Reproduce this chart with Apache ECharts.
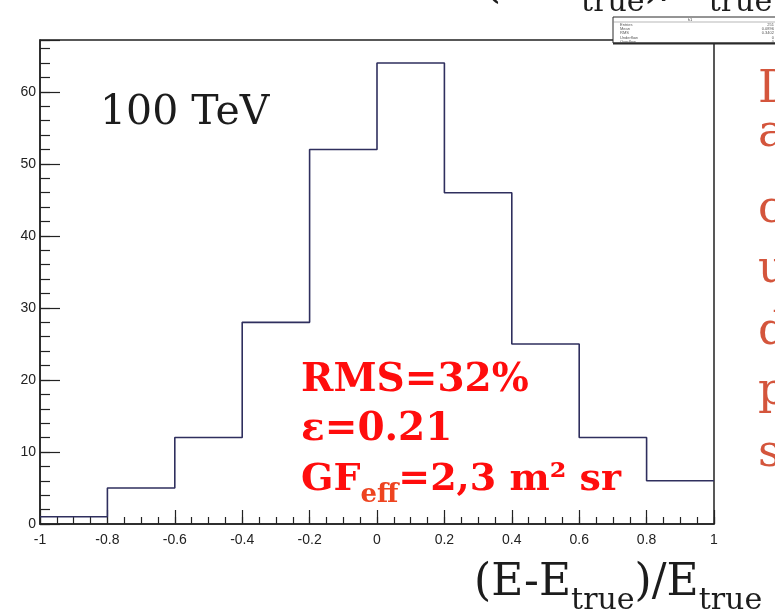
<!DOCTYPE html>
<html>
<head>
<meta charset="utf-8">
<script src="https://cdn.jsdelivr.net/npm/echarts@6/dist/echarts.min.js"></script>
<style>
  html, body { margin: 0; padding: 0; background: #ffffff; }
  #chart { width: 775px; height: 612px; }
</style>
</head>
<body>
<div id="chart"></div>
<script>
// Histogram of relative energy residuals, 10 bins over [-1, 1]
const binEdges = [-1, -0.8, -0.6, -0.4, -0.2, 0, 0.2, 0.4, 0.6, 0.8, 1];
const counts = [1, 5, 12, 28, 52, 64, 46, 25, 12, 6];
const yMax = 67.2;

// Annotation texts
const energyLabel = '100 TeV';
const rmsText = 'RMS=32%';
const effText = 'ε=0.21';
const gfMain = 'GF';
const gfSub = 'eff';
const gfRest = '=2,3 m² sr';
const sideLetters = ['D', 'a', 'c', 'u', 'd', 'p', 's'];

// Step outline: horizontal across each bin, vertical at each edge
const outline = counts.map((c, i) => [binEdges[i], c]);
outline.push([binEdges[binEdges.length - 1], counts[counts.length - 1]]);

// Summary numbers for the stats box
const entries = counts.reduce((a, b) => a + b, 0);
const centers = counts.map((c, i) => (binEdges[i] + binEdges[i + 1]) / 2);
const mean = counts.reduce((s, c, i) => s + c * centers[i], 0) / entries;
const rms = Math.sqrt(counts.reduce((s, c, i) => s + c * (centers[i] - mean) ** 2, 0) / entries);

const measureCtx = document.createElement('canvas').getContext('2d');
function textWidth(str, size, family, weight) {
  measureCtx.font = (weight || 'normal') + ' ' + size + 'px ' + family;
  return measureCtx.measureText(str).width;
}

// Lay out a run of text pieces along one baseline (dy shifts subscripts down)
function textRun(x, baseline, pieces) {
  const out = [];
  let cx = x;
  pieces.forEach(p => {
    out.push({
      type: 'text', x: cx, y: baseline + (p.dy || 0) + 0.17 * p.size, silent: true,
      style: {
        text: p.text, fill: p.color, font: (p.weight || 'normal') + ' ' + p.size + 'px ' + p.family,
        textAlign: 'left', textVerticalAlign: 'bottom', verticalAlign: 'bottom'
      }
    });
    cx += textWidth(p.text, p.size, p.family, p.weight);
  });
  return out;
}

const SERIF = '"DejaVu Serif"';
const RED = '#ff0d0d';
const SUBRED = '#ee4420';
const DARK = '#1c1c1c';

function residualLabel(x, baseline) {
  return textRun(x, baseline, [
    { text: '(E-E', size: 44, family: SERIF, color: DARK },
    { text: 'true', size: 30, family: SERIF, color: DARK, dy: 12.5 },
    { text: ')/E', size: 44, family: SERIF, color: DARK },
    { text: 'true', size: 30, family: SERIF, color: DARK, dy: 12.5 }
  ]);
}

const graphics = [];
// residual axis title at the bottom right, and its clipped twin at the top
graphics.push(...residualLabel(474, 598.5));
graphics.push(...residualLabel(484, 0.5));

graphics.push(...textRun(100, 127, [{ text: energyLabel, size: 41, family: SERIF, color: DARK }]));
graphics.push(...textRun(301, 394, [{ text: rmsText, size: 39, family: SERIF, color: RED, weight: 'bold' }]));
graphics.push(...textRun(301, 443, [{ text: effText, size: 39, family: SERIF, color: RED, weight: 'bold' }]));
graphics.push(...textRun(301, 493, [
  { text: gfMain, size: 38, family: SERIF, color: RED, weight: 'bold' },
  { text: gfSub, size: 26, family: SERIF, color: SUBRED, weight: 'bold', dy: 11 },
  { text: gfRest, size: 38, family: SERIF, color: RED, weight: 'bold' }
]));

// letters on the right margin
const sideBaselines = [105, 149, 225, 285, 347, 407, 469];
sideLetters.forEach((ch, i) => {
  graphics.push(...textRun(758, sideBaselines[i], [{ text: ch, size: 45, family: SERIF, color: '#d4553c' }]));
});

// stats box
graphics.push({
  type: 'rect', shape: { x: 613, y: 17, width: 170, height: 26 }, silent: true,
  style: { fill: '#ffffff', stroke: '#2a2a2a', lineWidth: 1 }, z: 50
});
graphics.push({
  type: 'line', shape: { x1: 613, y1: 43.5, x2: 775, y2: 43.5 }, silent: true,
  style: { stroke: '#2a2a2a', lineWidth: 2 }, z: 50
});
graphics.push({
  type: 'line', shape: { x1: 613, y1: 22, x2: 775, y2: 22 }, silent: true,
  style: { stroke: '#888', lineWidth: 0.6 }, z: 51
});
graphics.push({
  type: 'text', x: 690, y: 19.5, z: 51, silent: true,
  style: { text: 'h1', fill: '#444', font: '4px "Liberation Sans"', textAlign: 'center', textVerticalAlign: 'middle', verticalAlign: 'middle' }
});
const statRows = [
  ['Entries', String(entries), 25],
  ['Mean', mean.toFixed(4), 29],
  ['RMS', rms.toFixed(4), 33],
  ['Underflow', '0', 38],
  ['Overflow', '0', 41.5]
];
statRows.forEach(r => {
  graphics.push({
    type: 'text', x: 620, y: r[2], z: 51, silent: true,
    style: { text: r[0], fill: '#555', font: '4px "Liberation Sans"', textVerticalAlign: 'middle', verticalAlign: 'middle' }
  });
  graphics.push({
    type: 'text', x: 774, y: r[2], z: 51, silent: true,
    style: { text: r[1], fill: '#555', font: '4px "Liberation Sans"', textAlign: 'right', textVerticalAlign: 'middle', verticalAlign: 'middle' }
  });
});

const axisColor = '#222';
const tickFont = { color: '#222', fontSize: 14, fontFamily: '"Liberation Sans", Arial, sans-serif' };

const chart = echarts.init(document.getElementById('chart'), null, { renderer: 'canvas' });
chart.setOption({
  animation: false,
  backgroundColor: '#ffffff',
  grid: { left: 40, right: 61, top: 40, bottom: 88, show: true, borderColor: axisColor, borderWidth: 1.5, backgroundColor: 'transparent' },
  xAxis: [
    {
      type: 'value', min: -1, max: 1, interval: 0.2,
      axisLine: { show: true, onZero: false, lineStyle: { color: axisColor, width: 1.5 } },
      axisTick: { show: true, inside: true, length: 14, lineStyle: { color: axisColor, width: 1.2 } },
      axisLabel: Object.assign({ margin: 9 }, tickFont),
      splitLine: { show: false }
    },
    {
      type: 'value', min: -1, max: 1, interval: 0.05, position: 'bottom', offset: 0,
      axisLine: { show: false, onZero: false },
      axisTick: { show: true, inside: true, length: 7, lineStyle: { color: axisColor, width: 1.2 } },
      axisLabel: { show: false },
      splitLine: { show: false }
    }
  ],
  yAxis: [
    {
      type: 'value', min: 0, max: yMax, interval: 10,
      axisLine: { show: true, onZero: false, lineStyle: { color: axisColor, width: 1.5 } },
      axisTick: { show: true, inside: true, length: 20, lineStyle: { color: axisColor, width: 1.2 } },
      axisLabel: Object.assign({ margin: 4, formatter: v => (v % 10 === 0 ? String(v) : '') }, tickFont),
      splitLine: { show: false }
    },
    {
      type: 'value', min: 0, max: yMax, interval: 2, position: 'left', offset: 0,
      axisLine: { show: false, onZero: false },
      axisTick: { show: true, inside: true, length: 10, lineStyle: { color: axisColor, width: 1.2 } },
      axisLabel: { show: false },
      splitLine: { show: false }
    }
  ],
  series: [{
    type: 'line',
    xAxisIndex: 0, yAxisIndex: 0,
    step: 'end',
    symbol: 'none',
    data: outline,
    lineStyle: { color: '#2f2f5e', width: 1.6 },
    z: 3
  }],
  graphic: graphics
});
</script>
</body>
</html>
